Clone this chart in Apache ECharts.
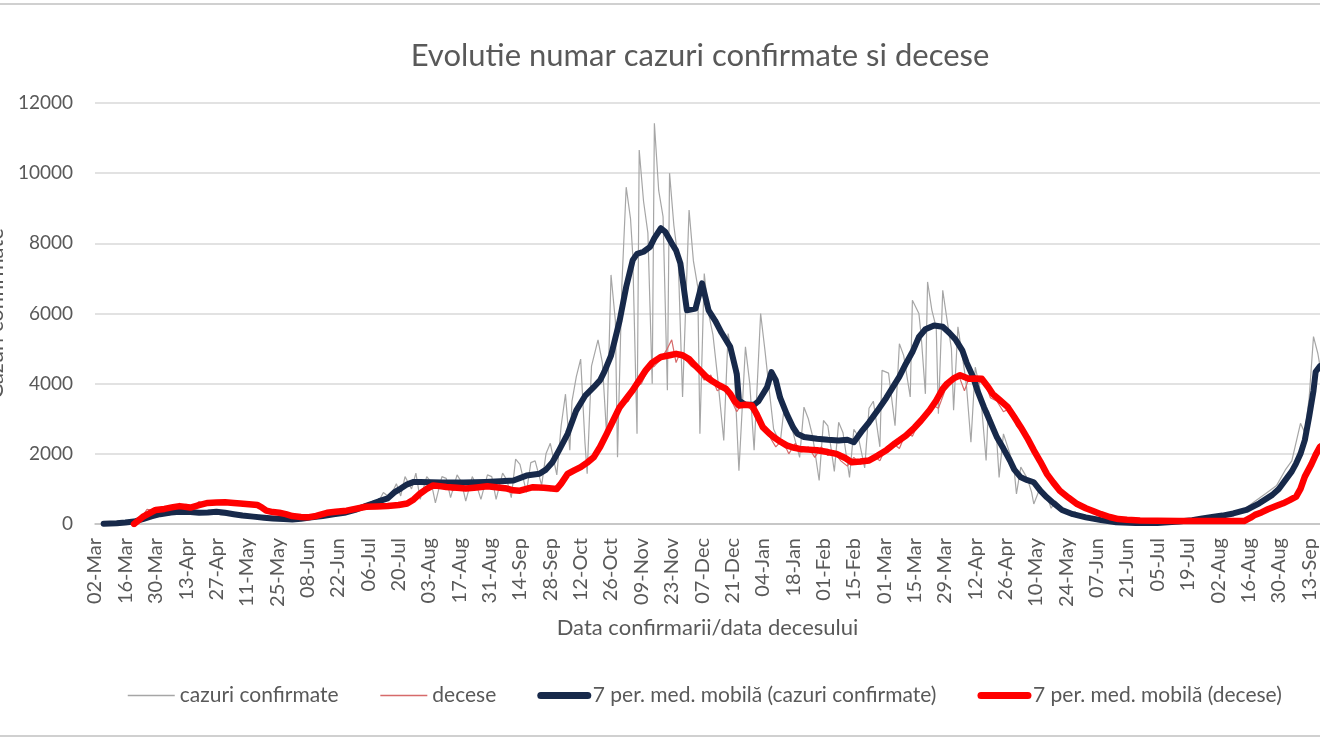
<!DOCTYPE html>
<html>
<head>
<meta charset="utf-8">
<script src="https://cdn.jsdelivr.net/npm/echarts@6/dist/echarts.min.js"></script>
<style>
  html, body { margin: 0; padding: 0; background: #fff; }
  #chart { width: 1320px; height: 743px; }
</style>
</head>
<body>
<div id="chart"></div>
<script>
// zilele de la 02-Mar-2020, eticheta la fiecare 14 zile
const dayCount = 566;
const monthNames = ["Jan", "Feb", "Mar", "Apr", "May", "Jun", "Jul", "Aug", "Sep", "Oct", "Nov", "Dec"];
const dateLabels = [];
for (let i = 0; i < dayCount; i++) {
    const d = new Date(2020, 2, 2 + i);
    dateLabels.push(String(d.getDate()).padStart(2, "0") + "-" + monthNames[d.getMonth()]);
}

const yTicks = [0, 2000, 4000, 6000, 8000, 10000, 12000];

// [index zi, valoare]
const cazuriZilnice = [
    [4,3],[10,15],[14,40],[18,70],[22,180],[26,260],[30,300],[34,250],[38,420],[42,330],[46,380],[50,300],
    [54,390],[58,260],[62,250],[66,300],[70,220],[74,170],[78,200],[82,150],[86,130],[90,160],[94,110],
    [98,200],[102,230],[106,260],[110,320],[114,250],[118,430],[122,400],[126,600],[130,550],[133,900],
    [136,750],[139,1150],[141,800],[143,1350],[146,1000],[148,1450],[150,700],[153,1350],[155,1200],
    [157,600],[160,1350],[162,1300],[164,750],[167,1400],[169,1200],[171,650],[174,1350],[176,1100],
    [178,700],[181,1400],[183,1350],[185,700],[188,1450],[190,1250],[192,750],[194,1850],[196,1700],
    [199,900],[201,1750],[203,1800],[206,1100],[208,2000],[210,2300],[213,1400],[215,2800],[217,3700],
    [219,2100],[220,3500],[222,4200],[224,4700],[226,2300],[227,1430],[229,4500],[232,5250],[234,4600],
    [236,2500],[238,7100],[240,5800],[241,1900],[243,6800],[245,9600],[247,8700],[248,7700],[250,2570],
    [251,10660],[253,9200],[255,8300],[257,4000],[258,11420],[260,9500],[262,8760],[264,3810],[265,10000],
    [267,8500],[269,7520],[271,3620],[274,8950],[276,7500],[278,6760],[279,2570],[281,7140],[283,6000],
    [285,5400],[287,4280],[290,2380],[292,5430],[294,4800],[295,4200],[297,1520],[300,5050],[302,4000],
    [304,2100],[307,6000],[309,4950],[311,3800],[313,2700],[316,2300],[318,3400],[320,3050],[322,2600],
    [325,1900],[327,3330],[329,3000],[331,2500],[334,1240],[336,2950],[338,2800],[341,1500],[343,2900],
    [345,2600],[348,1330],[350,2700],[352,2500],[355,1600],[357,3300],[359,3500],[362,2200],[363,4380],
    [366,4300],[369,2800],[371,5140],[373,4800],[376,3620],[377,6380],[380,6000],[381,5400],[383,3710],
    [384,6900],[386,6090],[388,5600],[389,3140],[391,6660],[393,5810],[395,5000],[396,3240],[398,5620],
    [401,4380],[402,3900],[404,2330],[406,4470],[408,3900],[409,3300],[411,1810],[412,3240],[414,2900],
    [416,2300],[417,1330],[419,2570],[422,2000],[424,1500],[425,860],[427,1620],[430,1300],[432,900],
    [433,570],[436,1050],[439,800],[441,450],[443,650],[446,450],[449,300],[452,350],[455,200],[460,180],
    [465,100],[470,60],[475,40],[480,40],[485,30],[490,50],[495,60],[500,80],[505,110],[510,150],[515,200],
    [520,280],[525,320],[530,420],[535,650],[540,870],[545,1100],[549,1540],[552,1800],[556,2870],
    [558,2600],[560,3600],[562,5340],[564,4860],[565,4500]
];

const deceseZilnice = [
    [18,0],[21,150],[24,420],[27,380],[30,460],[33,420],[36,520],[39,480],[42,560],[45,470],[48,640],
    [51,560],[54,600],[57,650],[60,580],[63,620],[66,560],[69,600],[72,520],[75,560],[78,400],[81,350],
    [84,300],[87,330],[90,250],[93,220],[96,200],[99,240],[102,260],[105,330],[108,300],[111,380],
    [114,350],[117,420],[120,400],[123,480],[126,450],[129,540],[132,480],[135,520],[138,560],[141,500],
    [144,620],[147,700],[150,900],[153,1000],[156,1150],[159,1050],[162,1100],[165,950],[168,1050],
    [171,1000],[174,1100],[177,1000],[180,1150],[183,1050],[186,1000],[189,1100],[192,950],[195,900],
    [198,1000],[201,1100],[204,980],[207,1050],[210,950],[213,1050],[216,1300],[219,1500],[222,1550],
    [225,1750],[228,1800],[231,2000],[234,2300],[237,2700],[240,3000],[243,3400],[246,3500],[249,3900],
    [252,4000],[255,4400],[258,4500],[261,4700],[264,5000],[266,5250],[268,4600],[270,4900],[272,4700],
    [275,4500],[278,4400],[281,4100],[284,4250],[287,3800],[290,3900],[293,3600],[296,3200],[299,3500],
    [302,3300],[305,3100],[308,2700],[311,2500],[314,2200],[317,2400],[320,2000],[323,2300],[326,2050],
    [329,2200],[332,1900],[335,2200],[338,1950],[341,2050],[344,1800],[347,1650],[350,1900],[353,1700],
    [356,1850],[359,1950],[362,1800],[365,2200],[368,2300],[371,2150],[374,2600],[377,2500],[380,2900],
    [383,3000],[386,3400],[389,3300],[392,3800],[395,4000],[398,4300],[401,3800],[404,4300],[407,4000],
    [410,4100],[413,3600],[416,3500],[419,3200],[422,3300],[425,2800],[428,2600],[431,2200],[434,2000],
    [437,1700],[440,1400],[443,1200],[446,950],[449,800],[452,600],[455,500],[458,400],[461,380],[464,300],
    [467,250],[470,180],[475,140],[480,100],[490,90],[500,80],[510,80],[520,90],[530,100],[534,200],
    [538,350],[542,450],[546,550],[550,700],[554,850],[558,1300],[562,2000],[565,2300]
];

const medieCazuri = [
    [4,10],[10,20],[14,40],[18,70],[22,140],[26,220],[30,280],[35,330],[39,350],[44,340],[48,320],[52,330],
    [56,350],[60,320],[64,280],[68,240],[73,210],[78,180],[82,160],[87,140],[91,130],[95,150],[100,190],
    [105,230],[110,280],[115,320],[120,400],[125,520],[128,580],[131,650],[135,730],[138,900],[141,1010],
    [144,1130],[147,1200],[150,1200],[160,1180],[170,1180],[180,1200],[187,1220],[193,1240],[199,1380],
    [205,1430],[208,1550],[211,1760],[214,2100],[218,2570],[222,3240],[226,3650],[230,3900],[233,4100],
    [235,4350],[238,4800],[240,5300],[242,5800],[245,6760],[248,7520],[250,7700],[253,7760],[256,7900],
    [258,8150],[261,8430],[263,8330],[266,8000],[268,7800],[270,7430],[273,6090],[277,6140],[280,6860],
    [283,6090],[286,5800],[289,5450],[293,5050],[296,4280],[297,3520],[300,3400],[304,3400],[306,3500],
    [310,3900],[312,4330],[314,4100],[316,3600],[319,3140],[322,2750],[324,2570],[327,2480],[333,2430],
    [338,2400],[343,2380],[347,2400],[350,2330],[354,2670],[357,2900],[361,3240],[365,3600],[368,3900],
    [371,4200],[374,4570],[377,4900],[380,5330],[383,5550],[387,5660],[391,5620],[394,5450],[397,5250],
    [400,4950],[402,4600],[405,4190],[407,3800],[410,3330],[413,2900],[416,2470],[419,2150],[422,1810],
    [424,1550],[427,1330],[430,1250],[433,1190],[436,950],[439,760],[442,600],[446,400],[451,280],
    [457,190],[464,110],[471,50],[480,30],[490,30],[500,70],[506,110],[510,150],[516,210],[520,240],
    [525,300],[531,400],[537,590],[543,830],[546,1000],[549,1250],[552,1500],[554,1730],[556,2000],
    [558,2390],[560,3060],[562,3800],[563,4340],[565,4500]
];

const medieDecese = [
    [18,0],[20,100],[22,200],[25,300],[28,400],[32,430],[36,480],[39,510],[44,470],[48,540],[52,600],
    [56,610],[60,620],[64,600],[67,585],[71,560],[75,540],[77,470],[79,380],[82,340],[85,320],[88,280],
    [91,225],[95,200],[98,190],[102,230],[107,320],[111,350],[116,380],[121,440],[125,490],[130,500],
    [135,510],[140,540],[144,585],[147,700],[150,870],[153,1000],[156,1100],[159,1080],[162,1055],
    [167,1030],[171,1010],[176,1040],[181,1075],[186,1040],[190,1010],[193,960],[196,950],[202,1050],
    [207,1030],[213,1000],[215,1150],[218,1430],[221,1530],[224,1620],[227,1750],[230,1900],[233,2200],
    [236,2570],[239,2950],[242,3330],[245,3570],[248,3810],[251,4100],[254,4380],[257,4600],[261,4760],
    [265,4810],[268,4850],[271,4810],[274,4700],[276,4570],[279,4380],[282,4190],[285,4060],[288,3950],
    [291,3850],[293,3710],[295,3500],[297,3380],[300,3400],[303,3380],[305,3150],[308,2760],[311,2580],
    [313,2480],[316,2350],[319,2240],[322,2180],[325,2140],[329,2120],[333,2100],[338,2050],[342,2000],
    [346,1880],[349,1760],[353,1780],[357,1810],[361,1950],[365,2100],[369,2300],[374,2520],[378,2750],
    [381,2950],[385,3250],[388,3520],[391,3850],[393,4000],[396,4150],[399,4240],[403,4140],[406,4150],
    [409,4140],[412,3900],[414,3710],[417,3550],[421,3330],[424,3050],[427,2760],[430,2450],[433,2100],
    [436,1780],[439,1430],[442,1180],[445,950],[449,750],[453,570],[457,450],[460,380],[464,280],
    [468,200],[472,140],[476,120],[482,100],[490,90],[500,85],[510,85],[520,85],[530,85],[533,180],
    [535,260],[538,330],[541,420],[545,520],[548,590],[551,680],[554,780],[556,1000],[558,1350],
    [561,1700],[563,1970],[565,2200]
];

const seriesNames = [
    "cazuri confirmate",
    "decese",
    "7 per. med. mobilă (cazuri confirmate)",
    "7 per. med. mobilă (decese)"
];

const textColor = "#595959";
const font = "Lato, 'Open Sans', sans-serif";

const chart = echarts.init(document.getElementById("chart"));
const option = {
    backgroundColor: "#fff",
    animation: false,
    title: {
        text: "Evolutie numar cazuri confirmate si decese",
        left: 695,
        top: 35,
        textAlign: "center",
        textStyle: { color: textColor, fontFamily: font, fontSize: 31, fontWeight: "normal" }
    },
    legend: {
        data: [
            { name: seriesNames[0], lineStyle: { width: 1.5 } },
            { name: seriesNames[1], lineStyle: { width: 1.5 } },
            { name: seriesNames[2], lineStyle: { width: 7, cap: "round" } },
            { name: seriesNames[3], lineStyle: { width: 7, cap: "round" } }
        ],
        left: 122,
        top: 680,
        itemWidth: 47,
        itemHeight: 14,
        itemGap: 41,
        itemStyle: { opacity: 0 },
        textStyle: { color: textColor, fontFamily: font, fontSize: 21 }
    },
    grid: { left: 95, right: 0, top: 103, bottom: 219, containLabel: false, outerBoundsMode: "none" },
    xAxis: {
        type: "category",
        data: dateLabels,
        boundaryGap: false,
        name: "Data confirmarii/data decesului",
        nameLocation: "middle",
        nameGap: 93,
        nameTextStyle: { color: textColor, fontFamily: font, fontSize: 22 },
        axisLine: { lineStyle: { color: "#bfbfbf", width: 1.5 } },
        axisTick: { show: false },
        axisLabel: {
            interval: 13,
            rotate: 90,
            margin: 14,
            color: textColor,
            fontFamily: font,
            fontSize: 20
        },
        splitLine: { show: false }
    },
    yAxis: {
        type: "value",
        min: yTicks[0],
        max: yTicks[yTicks.length - 1],
        interval: 2000,
        name: "Cazuri confirmate",
        nameLocation: "middle",
        nameGap: 86,
        nameTextStyle: { color: textColor, fontFamily: font, fontSize: 22 },
        axisLine: { show: false },
        axisTick: { show: false },
        axisLabel: {
            margin: 22,
            color: textColor,
            fontFamily: font,
            fontSize: 19,
            formatter: (v) => String(v)
        },
        splitLine: { lineStyle: { color: "#d9d9d9", width: 1.5 } }
    },
    series: [
        {
            name: seriesNames[0],
            type: "line",
            data: cazuriZilnice,
            showSymbol: false,
            symbol: "none",
            lineStyle: { color: "#a6a6a6", width: 1.2 },
            itemStyle: { color: "#a6a6a6" }
        },
        {
            name: seriesNames[1],
            type: "line",
            data: deceseZilnice,
            showSymbol: false,
            symbol: "none",
            lineStyle: { color: "#d66a6a", width: 1.2 },
            itemStyle: { color: "#d66a6a" }
        },
        {
            name: seriesNames[2],
            type: "line",
            data: medieCazuri,
            showSymbol: false,
            symbol: "none",
            lineStyle: { color: "#17294a", width: 6, cap: "round", join: "round" },
            itemStyle: { color: "#17294a" }
        },
        {
            name: seriesNames[3],
            type: "line",
            data: medieDecese,
            showSymbol: false,
            symbol: "none",
            lineStyle: { color: "#ff0000", width: 6.5, cap: "round", join: "round" },
            itemStyle: { color: "#ff0000" }
        }
    ],
    graphic: [
        { type: "line", shape: { x1: 0, y1: 4, x2: 1320, y2: 4 }, style: { stroke: "#d0d0d0", lineWidth: 2 } },
        { type: "line", shape: { x1: 0, y1: 736, x2: 1320, y2: 736 }, style: { stroke: "#d0d0d0", lineWidth: 2 } }
    ]
};
chart.setOption(option);
</script>
</body>
</html>
